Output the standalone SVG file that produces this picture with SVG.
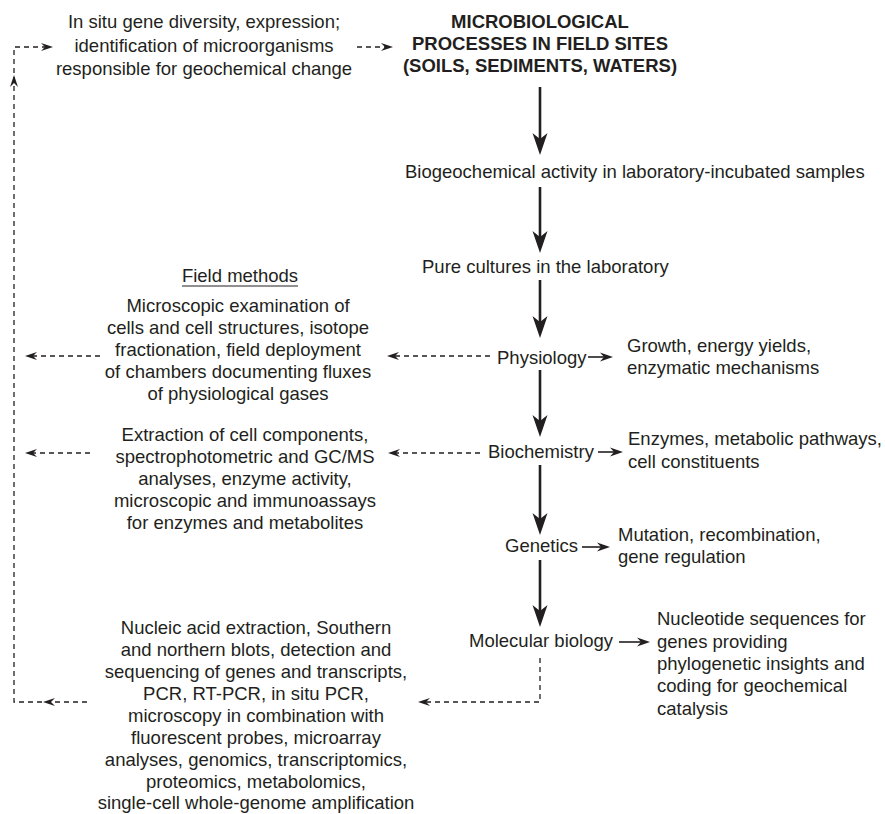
<svg xmlns="http://www.w3.org/2000/svg" xmlns:xlink="http://www.w3.org/1999/xlink" width="885" height="814" viewBox="0 0 885 814">
<style>
text{font-family:"Liberation Sans",Arial,sans-serif;font-size:18.5px;fill:#231f20}
.b{font-weight:bold}
.m{text-anchor:middle}
.solid{stroke:#231f20;stroke-width:2.6;fill:none}
.thin{stroke:#231f20;stroke-width:1.6;fill:none}
.dash{stroke:#231f20;stroke-width:1.3;fill:none;stroke-dasharray:5 4}
.head{fill:#231f20}
</style>
<defs>
<path id="big" d="M0,0 L-22,-7.5 L-16,0 L-22,7.5 Z"/>
<path id="sm" d="M0,0 L-13,-4.5 L-9,0 L-13,4.5 Z"/>
<path id="dh" d="M0,0 L-12,-4 L-8,0 L-12,4 Z"/>
</defs>
<rect width="885" height="814" fill="#fff"/>

<g id="connectors">
<line class="solid" x1="540" y1="87" x2="540" y2="140"/>
<use class="head" href="#big" transform="translate(540,155) rotate(90)"/>
<line class="solid" x1="540" y1="187" x2="540" y2="238"/>
<use class="head" href="#big" transform="translate(540,253) rotate(90)"/>
<line class="solid" x1="540" y1="280" x2="540" y2="323"/>
<use class="head" href="#big" transform="translate(540,338) rotate(90)"/>
<line class="solid" x1="540" y1="370" x2="540" y2="422"/>
<use class="head" href="#big" transform="translate(540,437) rotate(90)"/>
<line class="solid" x1="540" y1="465" x2="540" y2="520"/>
<use class="head" href="#big" transform="translate(540,535) rotate(90)"/>
<line class="solid" x1="540" y1="560" x2="540" y2="612"/>
<use class="head" href="#big" transform="translate(540,627) rotate(90)"/>

<line class="thin" x1="588" y1="357" x2="605" y2="357"/>
<use class="head" href="#sm" transform="translate(613,357)"/>
<line class="thin" x1="598" y1="452" x2="615" y2="452"/>
<use class="head" href="#sm" transform="translate(623,452)"/>
<line class="thin" x1="582" y1="547" x2="602" y2="547"/>
<use class="head" href="#sm" transform="translate(610,547)"/>
<line class="thin" x1="619" y1="642" x2="642" y2="642"/>
<use class="head" href="#sm" transform="translate(650,642)"/>

<line class="dash" x1="357" y1="47" x2="386" y2="47"/>
<use class="head" href="#dh" transform="translate(393,47)"/>
<path class="dash" d="M87,702 H14 V47 H46"/>
<use class="head" href="#dh" transform="translate(53,47)"/>
<use class="head" href="#dh" transform="translate(14,75) rotate(-90)"/>
<use class="head" href="#dh" transform="translate(43,702) rotate(180)"/>

<line class="dash" x1="490" y1="356" x2="394" y2="356"/>
<use class="head" href="#dh" transform="translate(387,356) rotate(180)"/>
<line class="dash" x1="100" y1="356" x2="32" y2="356"/>
<use class="head" href="#dh" transform="translate(25,356) rotate(180)"/>

<line class="dash" x1="480" y1="453" x2="395" y2="453"/>
<use class="head" href="#dh" transform="translate(388,453) rotate(180)"/>
<line class="dash" x1="90" y1="453" x2="32" y2="453"/>
<use class="head" href="#dh" transform="translate(25,453) rotate(180)"/>

<path class="dash" d="M540,658 V702 H425"/>
<use class="head" href="#dh" transform="translate(418,702) rotate(180)"/>
</g>

<g id="insitu">
<text class="m" x="204" y="28">In situ gene diversity, expression;</text>
<text class="m" x="204" y="52">identification of microorganisms</text>
<text class="m" x="204" y="75">responsible for geochemical change</text>
</g>

<g id="title">
<text class="b m" x="540" y="28">MICROBIOLOGICAL</text>
<text class="b m" x="540" y="50">PROCESSES IN FIELD SITES</text>
<text class="b m" x="540" y="72">(SOILS, SEDIMENTS, WATERS)</text>
</g>

<g id="biogeo"><text x="405" y="178">Biogeochemical activity in laboratory-incubated samples</text></g>
<g id="pure"><text x="422" y="273">Pure cultures in the laboratory</text></g>

<g id="physiology"><text x="497" y="364">Physiology</text></g>
<g id="growth">
<text x="627" y="352">Growth, energy yields,</text>
<text x="627" y="374">enzymatic mechanisms</text>
</g>

<g id="biochemistry"><text x="488" y="458">Biochemistry</text></g>
<g id="enzymes">
<text x="628" y="445">Enzymes, metabolic pathways,</text>
<text x="628" y="468">cell constituents</text>
</g>

<g id="genetics"><text x="505" y="552">Genetics</text></g>
<g id="mutation">
<text x="618" y="541">Mutation, recombination,</text>
<text x="618" y="563">gene regulation</text>
</g>

<g id="molecular"><text x="469" y="647">Molecular biology</text></g>
<g id="nucleotide">
<text x="657" y="625">Nucleotide sequences for</text>
<text x="657" y="648">genes providing</text>
<text x="657" y="670">phylogenetic insights and</text>
<text x="657" y="692">coding for geochemical</text>
<text x="657" y="715">catalysis</text>
</g>

<g id="fieldmethods">
<text class="m" x="240" y="282">Field methods</text>
<line x1="182" y1="286" x2="298" y2="286" stroke="#231f20" stroke-width="1"/>
<text class="m" x="238" y="312">Microscopic examination of</text>
<text class="m" x="238" y="334">cells and cell structures, isotope</text>
<text class="m" x="238" y="356">fractionation, field deployment</text>
<text class="m" x="238" y="378">of chambers documenting fluxes</text>
<text class="m" x="238" y="400">of physiological gases</text>
</g>

<g id="biochem-methods">
<text class="m" x="245" y="441">Extraction of cell components,</text>
<text class="m" x="245" y="463">spectrophotometric and GC/MS</text>
<text class="m" x="245" y="485">analyses, enzyme activity,</text>
<text class="m" x="245" y="507">microscopic and immunoassays</text>
<text class="m" x="245" y="529">for enzymes and metabolites</text>
</g>

<g id="molecular-methods">
<text class="m" x="256" y="634">Nucleic acid extraction, Southern</text>
<text class="m" x="256" y="656">and northern blots, detection and</text>
<text class="m" x="256" y="678">sequencing of genes and transcripts,</text>
<text class="m" x="256" y="700">PCR, RT-PCR, in situ PCR,</text>
<text class="m" x="256" y="722">microscopy in combination with</text>
<text class="m" x="256" y="744">fluorescent probes, microarray</text>
<text class="m" x="256" y="766">analyses, genomics, transcriptomics,</text>
<text class="m" x="256" y="788">proteomics, metabolomics,</text>
<text class="m" x="256" y="809">single-cell whole-genome amplification</text>
</g>
</svg>
